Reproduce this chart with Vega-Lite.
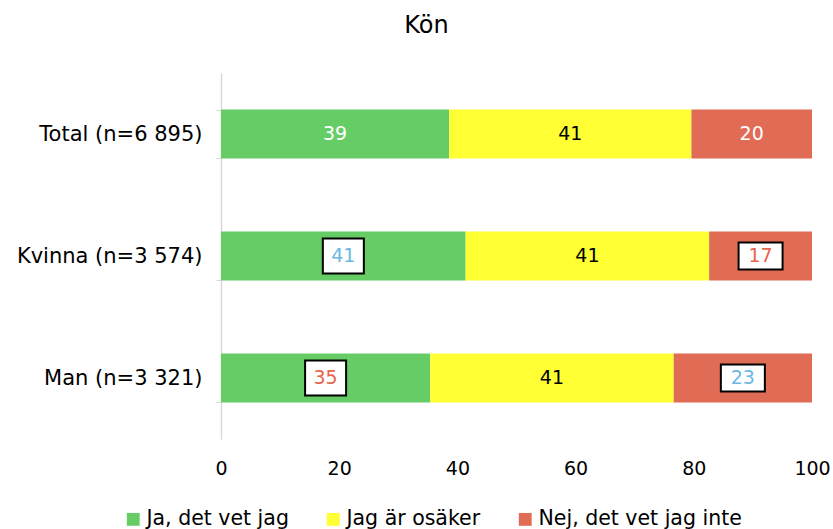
{
  "$schema": "https://vega.github.io/schema/vega-lite/v6.json",
  "width": 591,
  "height": 366,
  "autosize": "none",
  "padding": {"left": 221, "top": 73, "right": 21, "bottom": 90},
  "background": "white",
  "title": {"text": "Kön", "fontSize": 24, "font": "DejaVu Sans", "fontWeight": "normal", "color": "#000000", "anchor": "middle", "dx": -90, "offset": 24},
  "config": {"view": {"stroke": null}, "font": "DejaVu Sans"},
  "data": {"values": [
    {"grupp": "Total (n=6 895)", "svar": "Ja, det vet jag", "ordning": 1, "andel": 38.6, "sig": ""},
    {"grupp": "Total (n=6 895)", "svar": "Jag är osäker", "ordning": 2, "andel": 41.0, "sig": ""},
    {"grupp": "Total (n=6 895)", "svar": "Nej, det vet jag inte", "ordning": 3, "andel": 20.4, "sig": ""},
    {"grupp": "Kvinna (n=3 574)", "svar": "Ja, det vet jag", "ordning": 1, "andel": 41.4, "sig": "högre"},
    {"grupp": "Kvinna (n=3 574)", "svar": "Jag är osäker", "ordning": 2, "andel": 41.2, "sig": ""},
    {"grupp": "Kvinna (n=3 574)", "svar": "Nej, det vet jag inte", "ordning": 3, "andel": 17.4, "sig": "lägre"},
    {"grupp": "Man (n=3 321)", "svar": "Ja, det vet jag", "ordning": 1, "andel": 35.4, "sig": "lägre"},
    {"grupp": "Man (n=3 321)", "svar": "Jag är osäker", "ordning": 2, "andel": 41.2, "sig": ""},
    {"grupp": "Man (n=3 321)", "svar": "Nej, det vet jag inte", "ordning": 3, "andel": 23.4, "sig": "högre"}
  ]},
  "transform": [
    {"stack": "andel", "groupby": ["grupp"], "sort": [{"field": "ordning", "order": "ascending"}], "as": ["x0", "x1"]},
    {"calculate": "(datum.x0 + datum.x1) / 2", "as": "mitt"}
  ],
  "encoding": {
    "y": {"field": "grupp", "type": "nominal", "sort": ["Total (n=6 895)", "Kvinna (n=3 574)", "Man (n=3 321)"],
      "scale": {"paddingInner": 0.6, "paddingOuter": 0.3},
      "axis": {"title": null, "domainColor": "#D9D9D9", "domainWidth": 1.5, "tickColor": "#D9D9D9", "tickBand": "extent", "tickSize": 5, "labelPadding": 14, "labelFontSize": 21, "labelColor": "#000000", "labelFont": "DejaVu Sans", "labelLimit": 0}}
  },
  "layer": [
    {
      "mark": {"type": "bar"},
      "encoding": {
        "x": {"field": "x0", "type": "quantitative", "scale": {"domain": [0, 100]},
          "axis": {"title": null, "values": [0, 20, 40, 60, 80, 100], "domain": false, "ticks": false, "grid": false, "labelPadding": 20, "labelFontSize": 19, "labelColor": "#000000", "labelFont": "DejaVu Sans", "labelFlush": false}},
        "x2": {"field": "x1"},
        "color": {"field": "svar", "type": "nominal",
          "scale": {"domain": ["Ja, det vet jag", "Jag är osäker", "Nej, det vet jag inte"], "range": ["#66CD66", "#FFFF33", "#E06C55"]},
          "legend": {"title": null, "orient": "none", "direction": "horizontal", "legendX": -98, "legendY": 436, "symbolType": "square", "symbolSize": 165, "symbolStrokeWidth": 0, "labelFontSize": 20.5, "labelColor": "#000000", "labelFont": "DejaVu Sans", "labelLimit": 0, "columnPadding": 34, "labelOffset": 3}}
      }
    },
    {
      "transform": [{"filter": "datum.sig !== ''"}],
      "mark": {"type": "point", "filled": true, "fill": "white", "stroke": "black", "strokeWidth": 2, "size": 400, "opacity": 1},
      "encoding": {
        "x": {"field": "mitt", "type": "quantitative"},
        "shape": {"field": "svar", "type": "nominal", "legend": null,
          "scale": {"domain": ["Ja, det vet jag", "Nej, det vet jag inte"], "range": ["M-2.05,-1.75L2.05,-1.75L2.05,1.75L-2.05,1.75Z", "M-2.2,-1.35L2.2,-1.35L2.2,1.35L-2.2,1.35Z"]}}
      }
    },
    {
      "mark": {"type": "text", "fontSize": 19, "font": "DejaVu Sans", "baseline": "middle", "align": "center"},
      "encoding": {
        "x": {"field": "mitt", "type": "quantitative"},
        "text": {"field": "andel", "type": "quantitative", "format": ".0f"},
        "color": {"condition": [
          {"test": "datum.sig === 'högre'", "value": "#6BB7E3"},
          {"test": "datum.sig === 'lägre'", "value": "#E8644B"},
          {"test": "datum.svar === 'Jag är osäker'", "value": "#000000"}
        ], "value": "#FFFFFF"}
      }
    }
  ]
}
